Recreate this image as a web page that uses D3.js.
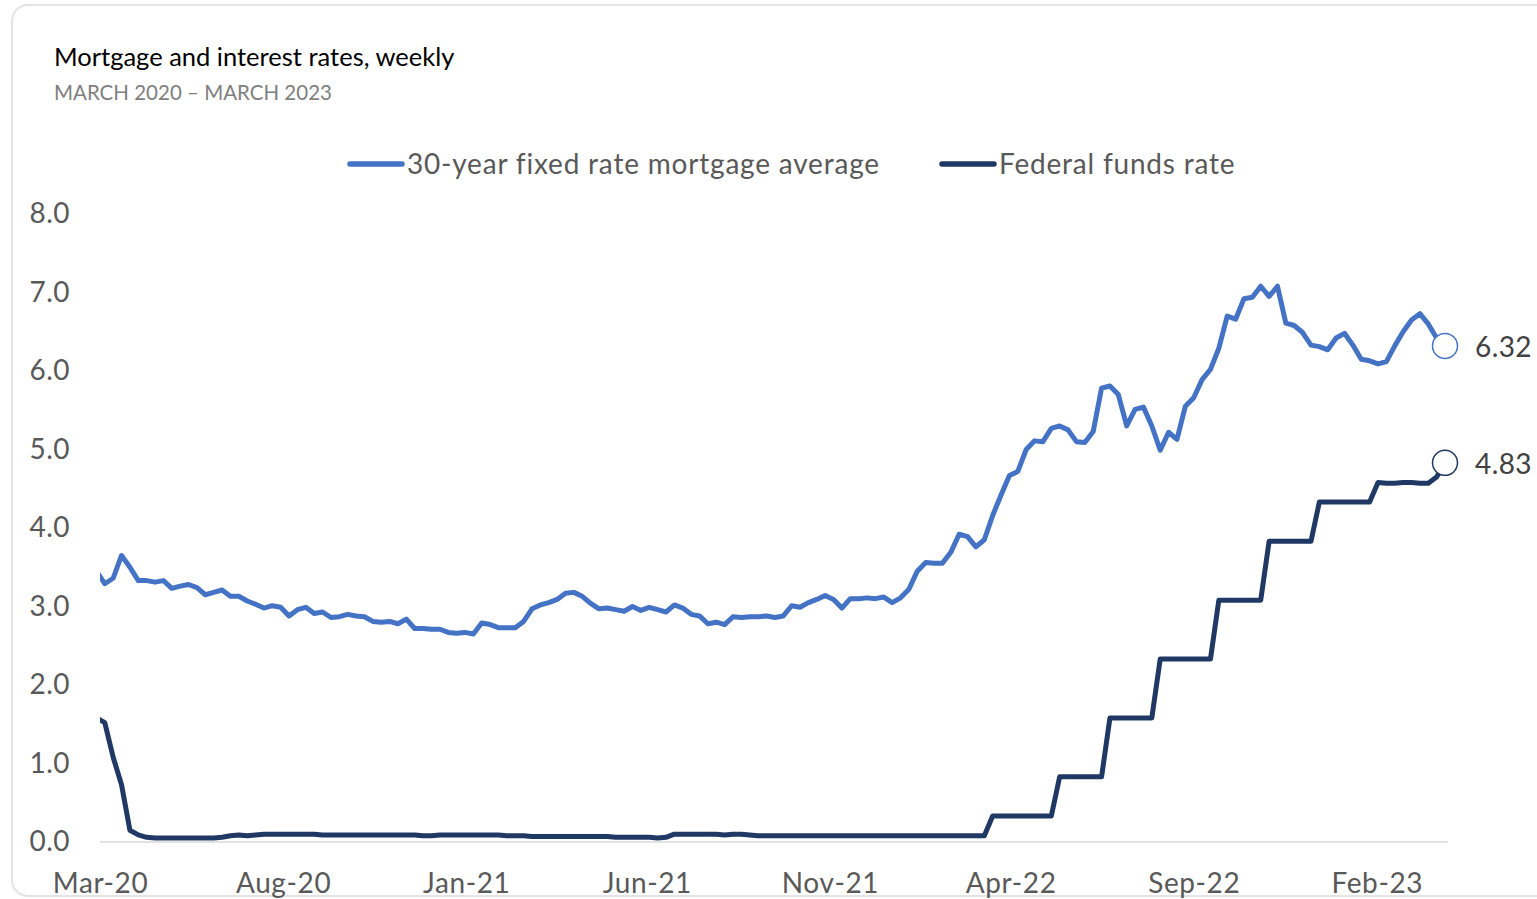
<!DOCTYPE html>
<html>
<head>
<meta charset="utf-8">
<script src="https://cdn.jsdelivr.net/npm/d3@7"></script>
<style>
  body { margin: 0; background: #fff; }
  svg text { font-family: Lato, "Open Sans", sans-serif; }
</style>
</head>
<body>
<div id="container"></div>
<script>
/* DATA */
// weekly readings, every Thursday from 27 Feb 2020 to 30 Mar 2023
const firstWeek = new Date(2020, 1, 27),
  lastWeek = new Date(2023, 2, 30)

const mortgage2020 = [3.45, 3.29, 3.36, 3.65, 3.50, 3.33, 3.33, 3.31, 3.33, 3.23, 3.26, 3.28, 3.24, 3.15, 3.18,
  3.21, 3.13, 3.13, 3.07, 3.03, 2.98, 3.01, 2.99, 2.88, 2.96, 2.99, 2.91, 2.93, 2.86, 2.87, 2.90, 2.88, 2.87,
  2.81, 2.80, 2.81, 2.78, 2.84, 2.72, 2.72, 2.71, 2.71, 2.67, 2.66, 2.67]
const mortgage2021 = [2.65, 2.79, 2.77, 2.73, 2.73, 2.73, 2.81, 2.97, 3.02, 3.05, 3.09, 3.17, 3.18, 3.13, 3.04,
  2.97, 2.98, 2.96, 2.94, 3.00, 2.95, 2.99, 2.96, 2.93, 3.02, 2.98, 2.90, 2.88, 2.78, 2.80, 2.77, 2.87, 2.86,
  2.87, 2.87, 2.88, 2.86, 2.88, 3.01, 2.99, 3.05, 3.09, 3.14, 3.09, 2.98, 3.10, 3.10, 3.11, 3.10, 3.12, 3.05, 3.11]
const mortgage2022 = [3.22, 3.45, 3.56, 3.55, 3.55, 3.69, 3.92, 3.89, 3.76, 3.85, 4.16, 4.42, 4.67, 4.72, 5.00,
  5.11, 5.10, 5.27, 5.30, 5.25, 5.10, 5.09, 5.23, 5.78, 5.81, 5.70, 5.30, 5.51, 5.54, 5.30, 4.99, 5.22, 5.13,
  5.55, 5.66, 5.89, 6.02, 6.29, 6.70, 6.66, 6.92, 6.94, 7.08, 6.95, 7.08, 6.61, 6.58, 6.49, 6.33, 6.31, 6.27, 6.42]
const mortgage2023 = [6.48, 6.33, 6.15, 6.13, 6.09, 6.12, 6.32, 6.50, 6.65, 6.73, 6.60, 6.42, 6.32]

const fedFunds2020 = [1.58, 1.52, 1.08, 0.73, 0.15, 0.09, 0.06, 0.05, 0.05, 0.05, 0.05, 0.05, 0.05, 0.05, 0.05,
  0.06, 0.08, 0.09, 0.08, 0.09, 0.10, 0.10, 0.10, 0.10, 0.10, 0.10, 0.10, 0.09, 0.09, 0.09, 0.09, 0.09, 0.09,
  0.09, 0.09, 0.09, 0.09, 0.09, 0.09, 0.08, 0.08, 0.09, 0.09, 0.09, 0.09]
const fedFunds2021 = [0.09, 0.09, 0.09, 0.09, 0.08, 0.08, 0.08, 0.07, 0.07, 0.07, 0.07, 0.07, 0.07, 0.07, 0.07,
  0.07, 0.07, 0.06, 0.06, 0.06, 0.06, 0.06, 0.05, 0.06, 0.10, 0.10, 0.10, 0.10, 0.10, 0.10, 0.09, 0.10, 0.10,
  0.09, 0.08, 0.08, 0.08, 0.08, 0.08, 0.08, 0.08, 0.08, 0.08, 0.08, 0.08, 0.08, 0.08, 0.08, 0.08, 0.08, 0.08, 0.08]
const fedFunds2022 = [0.08, 0.08, 0.08, 0.08, 0.08, 0.08, 0.08, 0.08, 0.08, 0.08, 0.33, 0.33, 0.33, 0.33, 0.33,
  0.33, 0.33, 0.33, 0.83, 0.83, 0.83, 0.83, 0.83, 0.83, 1.58, 1.58, 1.58, 1.58, 1.58, 1.58, 2.33, 2.33, 2.33,
  2.33, 2.33, 2.33, 2.33, 3.08, 3.08, 3.08, 3.08, 3.08, 3.08, 3.83, 3.83, 3.83, 3.83, 3.83, 3.83, 4.33, 4.33, 4.33]
const fedFunds2023 = [4.33, 4.33, 4.33, 4.33, 4.58, 4.57, 4.57, 4.58, 4.58, 4.57, 4.57, 4.65, 4.83]

const seriesNames = ["30-year fixed rate mortgage average", "Federal funds rate"]
const xTickLabels = ["Mar-20", "Aug-20", "Jan-21", "Jun-21", "Nov-21", "Apr-22", "Sep-22", "Feb-23"]
const yTickValues = [0, 1, 2, 3, 4, 5, 6, 7, 8]

/* CONSTANTS AND GLOBALS */
const width = 1537,
  height = 899,
  margin = { top: 214, bottom: 57, left: 100, right: 92 },
  colors = ["#4472c4", "#1f3864"]

const weeks = d3.timeThursday.range(firstWeek, d3.timeDay.offset(lastWeek, 1))
const mortgage = [...mortgage2020, ...mortgage2021, ...mortgage2022, ...mortgage2023]
const fedFunds = [...fedFunds2020, ...fedFunds2021, ...fedFunds2022, ...fedFunds2023]
const series = [mortgage, fedFunds].map((values, i) => ({
  name: seriesNames[i],
  color: colors[i],
  points: values.map((v, j) => ({ date: weeks[j], value: v }))
}))

// APPEND SVG
const svg = d3.select("#container")
  .append("svg")
  .attr("width", width)
  .attr("height", height)

// card frame
svg.append("rect")
  .attr("x", 12)
  .attr("y", 5)
  .attr("width", width + 40)
  .attr("height", 891)
  .attr("rx", 16)
  .attr("fill", "#fff")
  .attr("stroke", "#e4e4e4")
  .attr("stroke-width", 2)

// TITLES
svg.append("text")
  .attr("x", 54)
  .attr("y", 66)
  .attr("font-size", 25.5)
  .attr("fill", "#000")
  .text("Mortgage and interest rates, weekly")

svg.append("text")
  .attr("x", 54)
  .attr("y", 100)
  .attr("font-size", 20.5)
  .attr("fill", "#7f7f7f")
  .text("MARCH 2020 \u2013 MARCH 2023")

// SCALES
const xScale = d3.scaleTime()
  .domain([new Date(2020, 2, 1), lastWeek])
  .range([margin.left, width - margin.right])

const yScale = d3.scaleLinear()
  .domain([0, 8])
  .range([height - margin.bottom, margin.top])

// AXES
const parseTick = d3.timeParse("%b-%y")
const xAxis = d3.axisBottom(xScale)
  .tickValues(xTickLabels.map(parseTick))
  .tickFormat(d3.timeFormat("%b-%y"))
  .tickSize(0)
  .tickPadding(31)

const xAxisGroup = svg.append("g")
  .attr("transform", `translate(0, ${height - margin.bottom})`)
  .call(xAxis)
xAxisGroup.select(".domain")
  .attr("stroke", "#d9d9d9")
  .attr("stroke-width", 1.5)
  .attr("d", `M${margin.left},0H${width - margin.right + 3}`)
xAxisGroup.selectAll("text")
  .attr("font-size", 28)
  .attr("letter-spacing", 0.6)
  .attr("fill", "#595959")

const yAxis = d3.axisLeft(yScale)
  .tickValues(yTickValues)
  .tickFormat(d3.format(".1f"))
  .tickSize(0)
  .tickPadding(30)

const yAxisGroup = svg.append("g")
  .attr("transform", `translate(${margin.left}, 0)`)
  .call(yAxis)
yAxisGroup.select(".domain").remove()
yAxisGroup.selectAll("text")
  .attr("font-size", 28)
  .attr("letter-spacing", 0.5)
  .attr("fill", "#595959")

// LINES
svg.append("clipPath")
  .attr("id", "plot-clip")
  .append("rect")
  .attr("x", margin.left)
  .attr("y", 0)
  .attr("width", width - margin.left)
  .attr("height", height)

const lineGen = d3.line()
  .x(d => xScale(d.date))
  .y(d => yScale(d.value))

svg.selectAll("path.series")
  .data(series)
  .join("path")
  .attr("class", "series")
  .attr("clip-path", "url(#plot-clip)")
  .attr("d", d => lineGen(d.points))
  .attr("fill", "none")
  .attr("stroke", d => d.color)
  .attr("stroke-width", 5)
  .attr("stroke-linejoin", "round")
  .attr("stroke-linecap", "round")

// END MARKERS AND LABELS
const lastPoints = series.map(s => ({ color: s.color, ...s.points[s.points.length - 1] }))

svg.selectAll("circle.end")
  .data(lastPoints)
  .join("circle")
  .attr("class", "end")
  .attr("cx", d => xScale(d.date))
  .attr("cy", d => yScale(d.value))
  .attr("r", 12.5)
  .attr("fill", "#fff")
  .attr("stroke", d => d.color)
  .attr("stroke-width", 1.5)

svg.selectAll("text.end-label")
  .data(lastPoints)
  .join("text")
  .attr("class", "end-label")
  .attr("x", d => xScale(d.date) + 30)
  .attr("y", d => yScale(d.value) + 11)
  .attr("font-size", 28)
  .attr("letter-spacing", 0.4)
  .attr("fill", "#404040")
  .text(d => d3.format(".2f")(d.value))

// LEGEND
const legendX = [348, 940]
const legend = svg.selectAll("g.legend")
  .data(series)
  .join("g")
  .attr("class", "legend")
  .attr("transform", (d, i) => `translate(${legendX[i]}, 164)`)

legend.append("line")
  .attr("x1", 2)
  .attr("x2", 54)
  .attr("stroke", d => d.color)
  .attr("stroke-width", 5.5)
  .attr("stroke-linecap", "round")

legend.append("text")
  .attr("x", 59)
  .attr("y", 10)
  .attr("font-size", 28)
  .attr("letter-spacing", 0.8)
  .attr("fill", "#595959")
  .text(d => d.name)
</script>
</body>
</html>
